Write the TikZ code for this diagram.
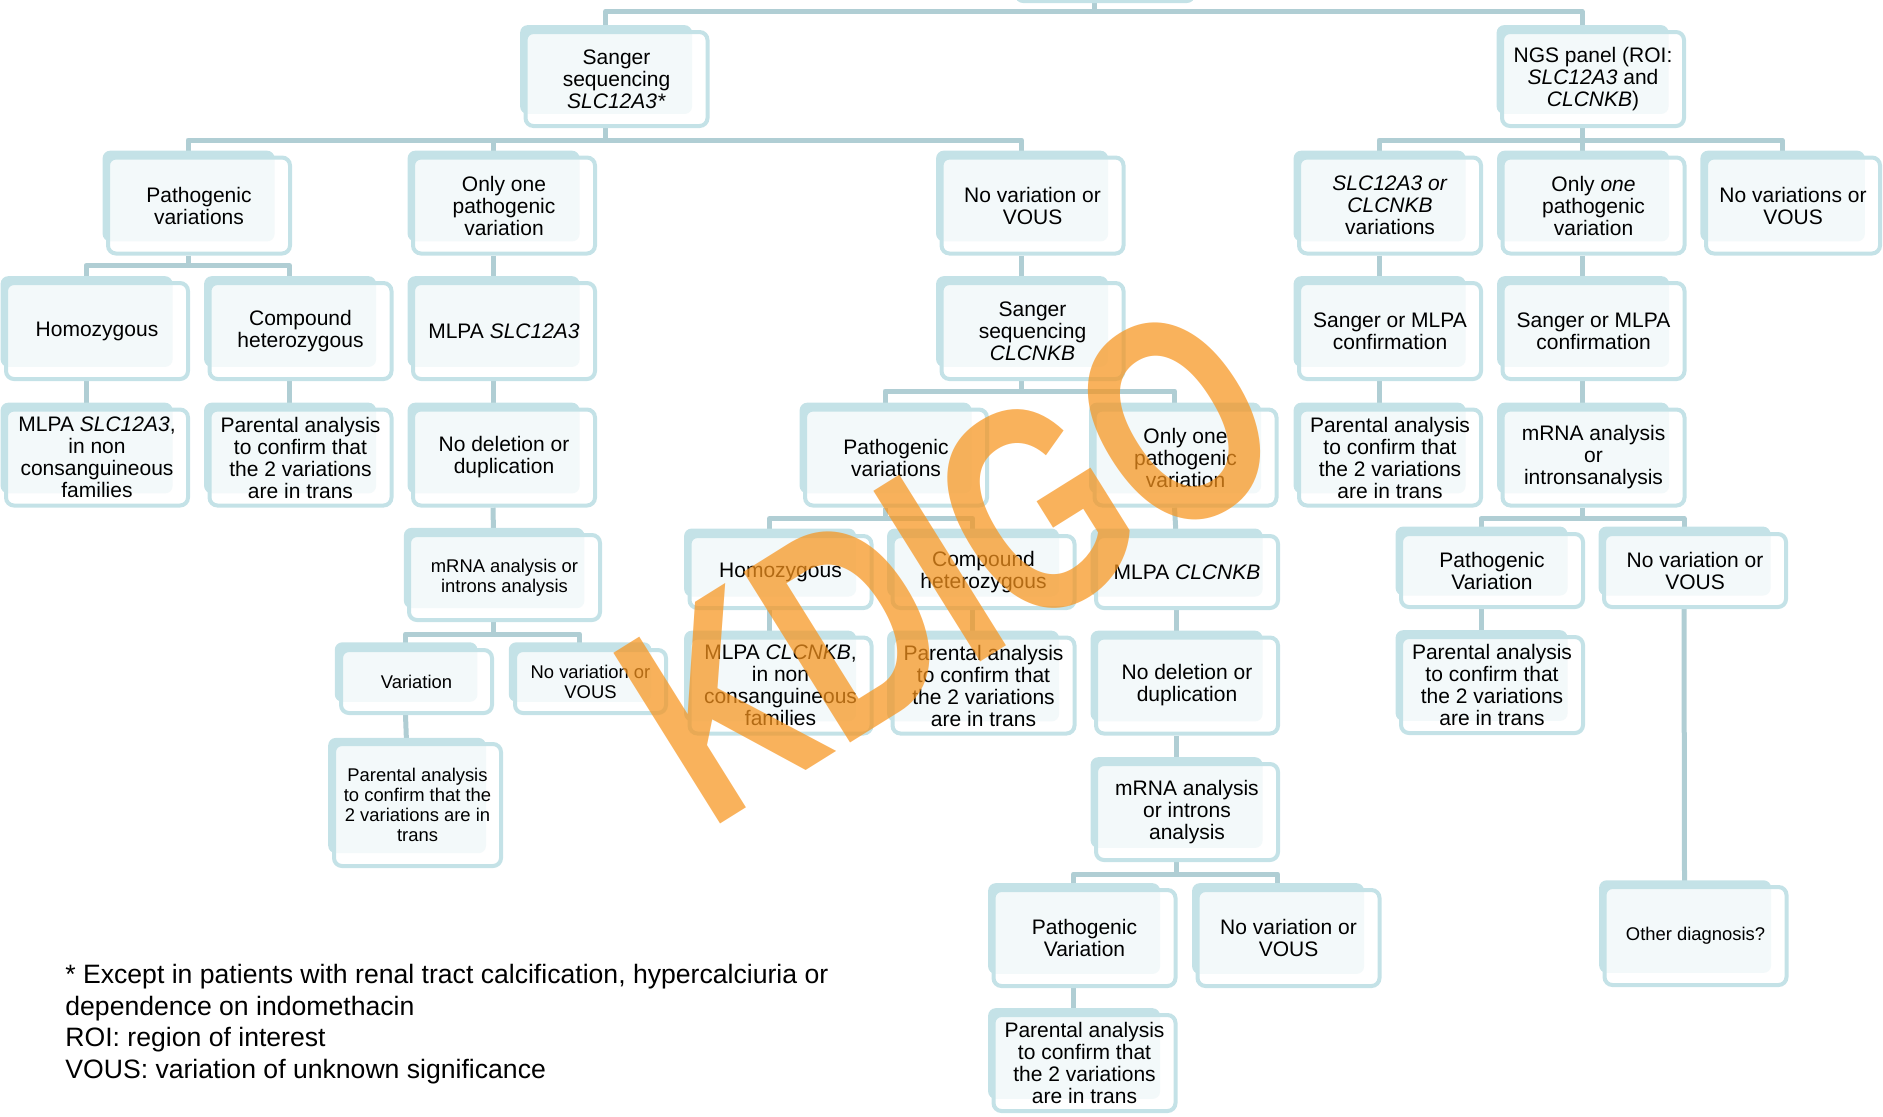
\documentclass[tikz,border=0pt]{standalone}
\usepackage{fontspec}
\setmainfont{Liberation Sans}
\usetikzlibrary{shadows,backgrounds}
\definecolor{boxteal}{RGB}{196,226,231}
\definecolor{linkteal}{RGB}{176,206,212}
\definecolor{wmorange}{RGB}{247,148,29}
\tikzset{
  box/.style={draw=boxteal, line width=2pt, rounded corners=4pt, fill=white, fill opacity=0.8, text opacity=1,
    align=center, inner sep=0pt, minimum width=91pt, minimum height=48pt, font=\fontsize{10.5}{11}\selectfont,
    general shadow={fill=boxteal, fill opacity=1, shadow xshift=-5.5pt, shadow yshift=5pt, shadow scale=0.945}},
  small/.style={font=\fontsize{9.2}{10}\selectfont},
  link/.style={draw=linkteal, line width=2.5pt, line join=round},
}
\begin{document}
\begin{tikzpicture}[x=0.5pt, y=-0.5pt]
\useasboundingbox (0,0) rectangle (1883,1116);
% top of the tree
\node[fill=boxteal, rounded corners=4pt, inner sep=0pt, minimum width=90pt, minimum height=20pt] (root) at (1105,-17) {};
\node[box, minimum height=47pt] (sanger1) at (616.5,79) {Sanger\\sequencing\\\textit{SLC12A3*}};
\node[box, minimum height=47pt] (ngs) at (1593,79) {NGS panel (ROI:\\\textit{SLC12A3} and\\\textit{CLCNKB})};
% row 2
\node[box] (path1) at (199,205.5) {Pathogenic\\variations};
\node[box] (one1) at (504,205.5) {Only one\\pathogenic\\variation};
\node[box] (novar1) at (1032.5,205.5) {No variation or\\VOUS};
\node[box] (ngsvar) at (1390,205.5) {\textit{SLC12A3 or}\\\textit{CLCNKB}\\variations};
\node[box] (ngsone) at (1593.5,205.5) {Only \textit{one}\\pathogenic\\variation};
\node[box, minimum width=87pt] (ngsnovar) at (1793,205.5) {No variations or\\VOUS};
% row 3
\node[box] (homo1) at (97,331) {Homozygous};
\node[box] (comp1) at (300.5,331) {Compound\\heterozygous};
\node[box] (mlpa1) at (504,331) {MLPA \textit{SLC12A3}};
\node[box] (sanger2) at (1032.5,331) {Sanger\\sequencing\\\textit{CLCNKB}};
\node[box] (ngsconf1) at (1390,331) {Sanger or MLPA\\confirmation};
\node[box] (ngsconf2) at (1593.5,331) {Sanger or MLPA\\confirmation};
% row 4
\node[box] (mlpafam1) at (97,457.5) {MLPA \textit{SLC12A3},\\in non\\consanguineous\\families};
\node[box] (par1) at (300.5,457.5) {Parental analysis\\to confirm that\\the 2 variations\\are in trans};
\node[box] (nodel1) at (504,457.5) {No deletion or\\duplication};
\node[box] (path2) at (896,457.5) {Pathogenic\\variations};
\node[box] (one2) at (1185.5,457.5) {Only one\\pathogenic\\variation};
\node[box] (ngspar) at (1390,457.5) {Parental analysis\\to confirm that\\the 2 variations\\are in trans};
\node[box] (ngsmrna) at (1593.5,457.5) {mRNA analysis\\or\\intronsanalysis};
% row 5
\node[box, small, minimum width=95.5pt, minimum height=42.5pt] (mrna1) at (504.5,577.5) {mRNA analysis or\\introns analysis};
\node[box, minimum height=36pt] (homo2) at (780.5,572) {Homozygous};
\node[box, minimum height=36pt] (comp2) at (983.5,572) {Compound\\heterozygous};
\node[box, minimum height=36pt] (mlpa2) at (1187,572) {MLPA \textit{CLCNKB}};
\node[box, minimum height=36.5pt] (ngspath) at (1492,570.5) {Pathogenic\\Variation};
\node[box, minimum height=36.5pt] (ngsnovar2) at (1695,570.5) {No variation or\\VOUS};
% row 6
\node[box, small, minimum width=75.5pt, minimum height=31.5pt] (var1) at (416.5,681.5) {Variation};
\node[box, small, minimum width=75.5pt, minimum height=31.5pt] (novar3) at (590.5,681.5) {No variation or\\VOUS};
\node[box] (mlpafam2) at (780.5,685.5) {MLPA \textit{CLCNKB},\\in non\\consanguineous\\families};
\node[box] (par2) at (983.5,685.5) {Parental analysis\\to confirm that\\the 2 variations\\are in trans};
\node[box] (nodel2) at (1187,685.5) {No deletion or\\duplication};
\node[box] (ngspar2) at (1492,685) {Parental analysis\\to confirm that\\the 2 variations\\are in trans};
% rows 7 to 9
\node[box, small, minimum width=83.5pt, minimum height=61pt] (par3) at (417.5,805) {Parental analysis\\to confirm that the\\2 variations are in\\trans};
\node[box] (mrna2) at (1187,812) {mRNA analysis\\or introns\\analysis};
\node[box] (path3) at (1084.5,938) {Pathogenic\\Variation};
\node[box] (novar4) at (1288.5,938) {No variation or\\VOUS};
\node[box, small, minimum height=49pt] (other) at (1695.5,936) {Other diagnosis?};
\node[box] (par4) at (1084.5,1063) {Parental analysis\\to confirm that\\the 2 variations\\are in trans};
% connectors
\begin{scope}[on background layer]
\draw[link] ([xshift=-5.5pt]root.south) -- ++(0,8) -| ([xshift=-5.5pt]sanger1.north);
\draw[link] ([xshift=-5.5pt]root.south) -- ++(0,8) -| ([xshift=-5.5pt]ngs.north);
\foreach \c in {path1,one1,novar1}
  \draw[link] ([xshift=-5.5pt]sanger1.south) -- ++(0,12) -| ([xshift=-5.5pt]\c.north);
\foreach \c in {ngsvar,ngsone,ngsnovar}
  \draw[link] ([xshift=-5.5pt]ngs.south) -- ++(0,12) -| ([xshift=-5.5pt]\c.north);
\foreach \c in {homo1,comp1}
  \draw[link] ([xshift=-5.5pt]path1.south) -- ++(0,10) -| ([xshift=-5.5pt]\c.north);
\foreach \c in {path2,one2}
  \draw[link] ([xshift=-5.5pt]sanger2.south) -- ++(0,10) -| ([xshift=-5.5pt]\c.north);
\foreach \c in {homo2,comp2}
  \draw[link] ([xshift=-5.5pt]path2.south) -- ++(0,11) -| ([xshift=-5.5pt]\c.north);
\foreach \c in {ngspath,ngsnovar2}
  \draw[link] ([xshift=-5.5pt]ngsmrna.south) -- ++(0,11) -| ([xshift=-5.5pt]\c.north);
\foreach \c in {var1,novar3}
  \draw[link] ([xshift=-5.5pt]mrna1.south) -- ++(0,12) -| ([xshift=-5.5pt]\c.north);
\foreach \c in {path3,novar4}
  \draw[link] ([xshift=-5.5pt]mrna2.south) -- ++(0,12) -| ([xshift=-5.5pt]\c.north);
\foreach \a/\b in {one1/mlpa1,mlpa1/nodel1,nodel1/mrna1,novar1/sanger2,homo1/mlpafam1,comp1/par1,
    one2/mlpa2,mlpa2/nodel2,nodel2/mrna2,homo2/mlpafam2,comp2/par2,var1/par3,path3/par4,
    ngsvar/ngsconf1,ngsconf1/ngspar,ngsone/ngsconf2,ngsconf2/ngsmrna,ngspath/ngspar2,ngsnovar2/other}
  \draw[link] ([xshift=-5.5pt]\a.south) -- ([xshift=-5.5pt]\b.north);
\end{scope}
% legend
\node[anchor=west, align=left, inner sep=0pt, font=\fontsize{13.3}{15.8}\selectfont] (legend) at (65,1024)
  {* Except in patients with renal tract calcification, hypercalciuria or\\dependence on indomethacin\\ROI: region of interest\\VOUS: variation of unknown significance};
% watermark
\node[text=wmorange, text opacity=0.72, rotate=32, yscale=1.38, inner sep=0pt, font=\bfseries\fontsize{106}{106}\selectfont] (kdigo) at (950,562) {KDIGO};
\end{tikzpicture}
\end{document}
